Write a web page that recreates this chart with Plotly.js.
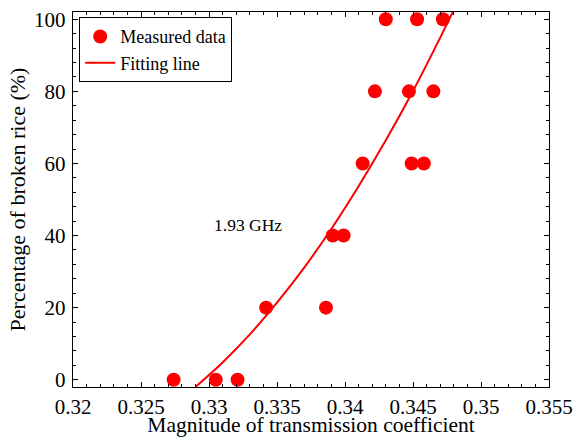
<!DOCTYPE html>
<html>
<head>
<meta charset="utf-8">
<script src="https://cdn.plot.ly/plotly-3.0.1.min.js"></script>
<style>
  html, body { margin: 0; padding: 0; background: #fff; }
  #chart { width: 576px; height: 437px; }
</style>
</head>
<body>
<div id="chart"></div>
<script>
// Measured samples: transmission magnitude vs. broken-rice percentage
const measuredX = [0.3274, 0.3305, 0.3321, 0.3342, 0.3386, 0.3391, 0.3399, 0.3413,
                   0.3422, 0.3430, 0.3447, 0.3449, 0.3453, 0.3458, 0.3465, 0.3472];
const measuredY = [0, 0, 0, 20, 20, 40, 40, 60, 80, 100, 80, 60, 100, 60, 80, 100];

// Points along the fitted curve
const fitX = [0.3290, 0.3310, 0.3330, 0.3350, 0.3370, 0.3390, 0.3410, 0.3430, 0.3450, 0.3470, 0.3480];
const fitY = [-2.0, 4.8, 12.6, 21.4, 31.1, 41.9, 53.7, 66.4, 80.1, 94.9, 102.6];

// Axis ticks
const xTickVals = [0.32, 0.325, 0.33, 0.335, 0.34, 0.345, 0.35, 0.355];
const xTickText = ['0.32', '0.325', '0.33', '0.335', '0.34', '0.345', '0.35', '0.355'];
const yTickVals = [0, 20, 40, 60, 80, 100];
const yTickText = ['0', '20', '40', '60', '80', '100'];

const FONT = 'Liberation Serif, Times New Roman, serif';

const traces = [
  {
    x: measuredX, y: measuredY,
    type: 'scatter', mode: 'markers',
    name: 'Measured data',
    marker: { color: '#ff0000', size: 14 }
  },
  {
    x: fitX, y: fitY,
    type: 'scatter', mode: 'lines',
    name: 'Fitting line',
    line: { color: '#ff0000', width: 2, shape: 'spline', smoothing: 1 }
  }
];

const axisCommon = {
  showgrid: false, zeroline: false,
  showline: true, linecolor: '#000', linewidth: 1.3,
  mirror: 'ticks', ticks: 'inside', ticklen: 5, tickwidth: 1, tickcolor: '#000',
  tickmode: 'array'
};

const layout = {
  width: 576, height: 437,
  margin: { l: 73, r: 27, t: 12, b: 50 },
  paper_bgcolor: '#fff', plot_bgcolor: '#fff',
  font: { family: FONT, color: '#000' },
  showlegend: true,
  legend: {
    x: 0.013, y: 0.986, xanchor: 'left', yanchor: 'top',
    bgcolor: '#fff', bordercolor: '#000', borderwidth: 1,
    font: { family: FONT, size: 18, color: '#000' },
    tracegroupgap: 0
  },
  xaxis: Object.assign({}, axisCommon, {
    range: [0.32, 0.355],
    tickvals: xTickVals, ticktext: xTickText,
    tickfont: { family: FONT, size: 21, color: '#000' },
    minor: { dtick: 0.001, ticks: 'inside', ticklen: 3, tickcolor: '#000', showgrid: false },
    title: { text: 'Magnitude of transmission coefficient', font: { family: FONT, size: 21.5, color: '#000' }, standoff: 2 }
  }),
  yaxis: Object.assign({}, axisCommon, {
    range: [-2, 102],
    tickvals: yTickVals, ticktext: yTickText,
    tickfont: { family: FONT, size: 21, color: '#000' },
    ticklabelstandoff: 2,
    minor: { dtick: 4, tick0: 0, ticks: 'inside', ticklen: 3, tickcolor: '#000', showgrid: false },
    title: { text: 'Percentage of broken rice (%)', font: { family: FONT, size: 22, color: '#000' }, standoff: 2 }
  }),
  annotations: [{
    x: 0.33287, y: 42.9, xref: 'x', yref: 'y',
    text: '1.93 GHz', showarrow: false,
    font: { family: FONT, size: 17.5, color: '#000' }
  }]
};

Plotly.newPlot('chart', traces, layout, { displayModeBar: false, staticPlot: true });
</script>
</body>
</html>
